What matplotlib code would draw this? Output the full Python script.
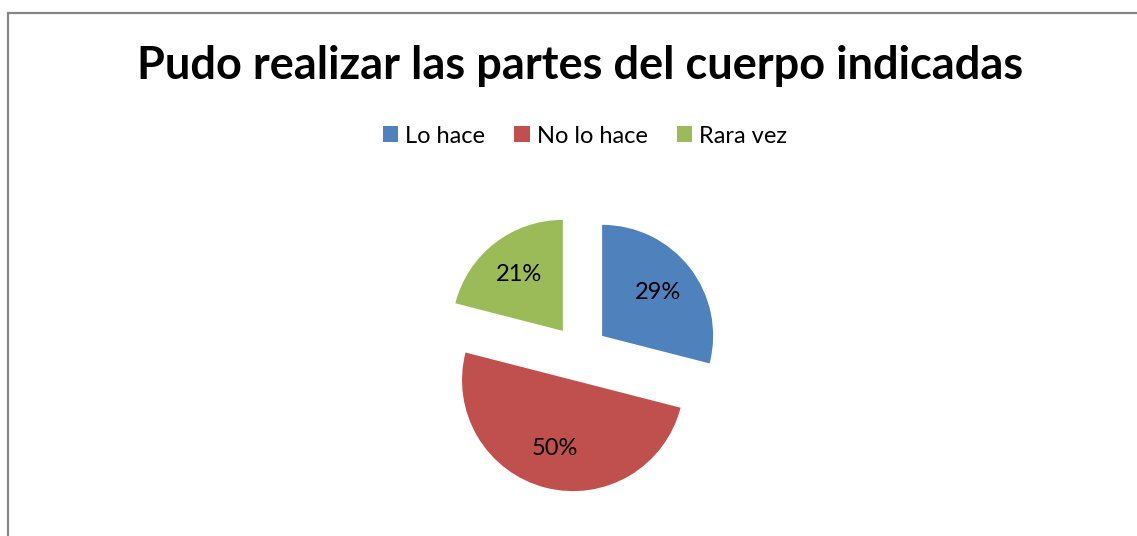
import matplotlib.pyplot as plt

# data
categories = ['Lo hace', 'No lo hace', 'Rara vez']
values = [29, 50, 21]
colors = ['#4F81BD', '#C0504D', '#9BBB59']
title = 'Pudo realizar las partes del cuerpo indicadas'

plt.rcParams['font.family'] = ['Lato', 'DejaVu Sans']

W, H = 1137, 536
fig = plt.figure(figsize=(W / 100, H / 100), dpi=100)
ax = fig.add_axes([0, 0, 1, 1])

# pie in pixel units so it sits where the reference has it
# (explode is in data units here, i.e. pixels)
wedges, texts, autotexts = ax.pie(
    values,
    colors=colors,
    startangle=90,
    counterclock=False,
    explode=[28] * len(values),
    center=(580, H - 353),
    radius=111,
    autopct='%1.0f%%',
    pctdistance=0.64,
    textprops={'fontsize': 17, 'color': 'black'},
    wedgeprops={'linewidth': 0},
)
ax.set_xlim(0, W)
ax.set_ylim(0, H)
ax.set_aspect('equal')
ax.axis('off')

# outer chart border (right and bottom are cut off in the reference)
ax.plot([8, 8, W], [0, H - 13, H - 13], color='#868686', linewidth=1.6,
        solid_joinstyle='miter')

fig.text(580 / W, 1 - 66 / H, title, ha='center', va='center',
         fontsize=32.5, fontweight='bold')

fig.legend(wedges, categories, loc='center', bbox_to_anchor=(585 / W, 1 - 136 / H),
           ncol=3, frameon=False, fontsize=17, handlelength=0.64, handleheight=0.64,
           handletextpad=0.3, columnspacing=1.23)

fig.savefig('out.png', dpi=100)
